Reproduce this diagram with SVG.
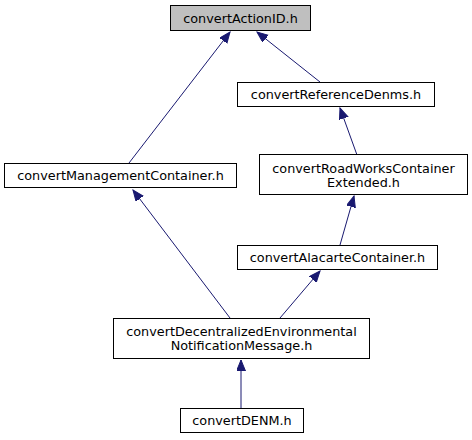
<svg xmlns="http://www.w3.org/2000/svg" width="472" height="440" viewBox="0 0 472 440">
<style>
.n rect{fill:#ffffff;stroke:#000000;stroke-width:1}
.n.root rect{fill:#bfbfbf}
.n text{font-family:"DejaVu Sans",sans-serif;font-size:12.8px;fill:#000000;text-anchor:middle}
.e path{fill:none;stroke:#191970;stroke-width:1;marker-end:url(#ah)}
</style>
<defs>
<marker id="ah" markerUnits="userSpaceOnUse" markerWidth="13" markerHeight="10" refX="11" refY="4.5" orient="auto">
<path d="M0,0 L11,4.5 L0,9 z" fill="#191970" stroke="#191970" stroke-width="1"/>
</marker>
</defs>
<rect width="472" height="440" fill="#ffffff"/>
<g id="edges" class="e">
<path d="M129,163 L230,32"/>
<path d="M320,82 L257,32"/>
<path d="M357,155 L340,108"/>
<path d="M340,245 L354,196"/>
<path d="M230,318 L133,190"/>
<path d="M280,318 L320,271"/>
<path d="M241,408 L241,360"/>
</g>
<g id="n_actionid" class="n root">
<rect x="170.5" y="5.5" width="140" height="25"/>
<text x="240.5" y="22.5">convertActionID.h</text>
</g>
<g id="n_mgmt" class="n">
<rect x="4.5" y="163.5" width="232" height="24"/>
<text x="120.5" y="180">convertManagementContainer.h</text>
</g>
<g id="n_refdenms" class="n">
<rect x="237.5" y="82.5" width="197" height="24"/>
<text x="336" y="99">convertReferenceDenms.h</text>
</g>
<g id="n_roadworks" class="n">
<rect x="259.5" y="154.5" width="208" height="40"/>
<text x="363.5" y="172.5">convertRoadWorksContainer</text>
<text x="363.5" y="187">Extended.h</text>
</g>
<g id="n_alacarte" class="n">
<rect x="237.5" y="245.5" width="200" height="24"/>
<text x="337.5" y="262">convertAlacarteContainer.h</text>
</g>
<g id="n_decentral" class="n">
<rect x="113.5" y="318.5" width="256" height="40"/>
<text x="241.5" y="335.5">convertDecentralizedEnvironmental</text>
<text x="241.5" y="350">NotificationMessage.h</text>
</g>
<g id="n_denm" class="n">
<rect x="180.5" y="408.5" width="123" height="24"/>
<text x="242" y="425">convertDENM.h</text>
</g>
</svg>
